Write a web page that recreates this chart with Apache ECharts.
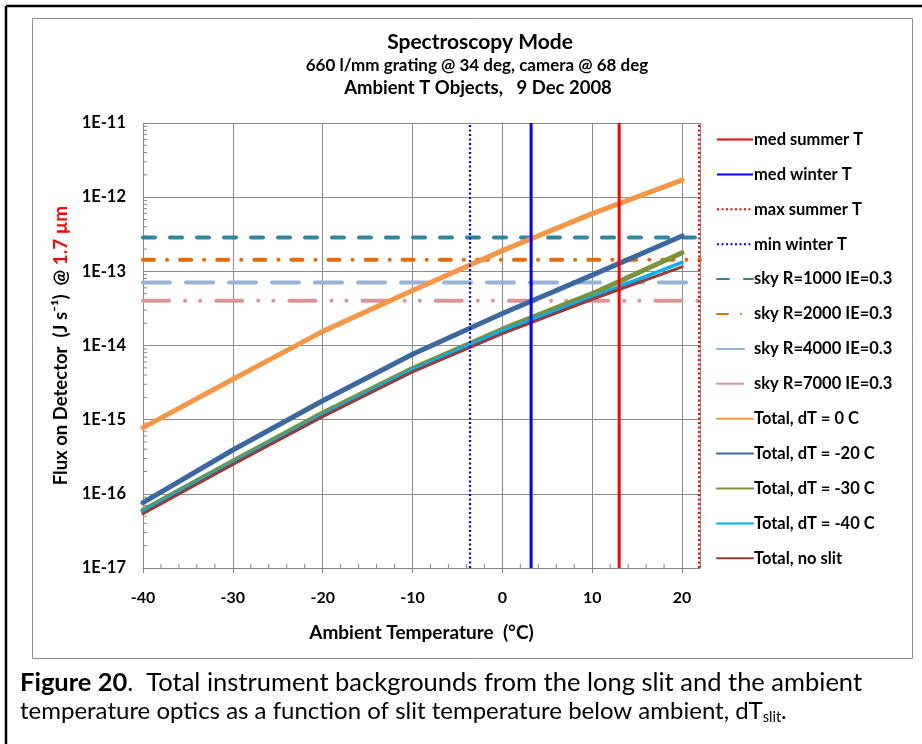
<!DOCTYPE html>
<html><head><meta charset="utf-8">
<script src="https://cdn.jsdelivr.net/npm/echarts@6/dist/echarts.min.js"></script>
<style>html,body{margin:0;padding:0;background:#fff}#c{width:922px;height:744px}</style>
</head><body><div id="c"></div>
<script>
// ---------- data ----------
const temps = [-40, -30, -20, -10, 0, 10, 20];
const totalDT0   = [7.8e-16, 3.5e-15, 1.55e-14, 5.5e-14, 1.9e-13, 6.0e-13, 1.7e-12];
const totalDT20  = [7.6e-17, 3.9e-16, 1.8e-15, 7.6e-15, 2.7e-14, 8.9e-14, 3.0e-13];
const totalDT30  = [6.0e-17, 2.75e-16, 1.23e-15, 4.9e-15, 1.66e-14, 5.0e-14, 1.78e-13];
const totalDT40  = [5.75e-17, 2.6e-16, 1.15e-15, 4.7e-15, 1.58e-14, 4.5e-14, 1.32e-13];
const totalNoSlit= [5.4e-17, 2.5e-16, 1.1e-15, 4.4e-15, 1.45e-14, 4.2e-14, 1.15e-13];
const skyRange = [-40, 22];
const skyR1000 = 2.85e-13, skyR2000 = 1.43e-13, skyR4000 = 7.05e-14, skyR7000 = 4.0e-14;
const medSummerT = 13.0, medWinterT = 3.2, maxSummerT = 21.9, minWinterT = -3.6;
const X_MIN = -40, X_MAX = 22, Y_MIN = 1e-17, Y_MAX = 1e-11;
const yTickLabels = {'-17':'1E-17','-16':'1E-16','-15':'1E-15','-14':'1E-14','-13':'1E-13','-12':'1E-12','-11':'1E-11'};
const yMinorTicks = [];
for (let e = -17; e < -11; e++) for (let m = 2; m <= 9; m++) yMinorTicks.push(m * Math.pow(10, e));
const xMinorTicks = [-38,-36,-34,-32,-28,-26,-24,-22,-18,-16,-14,-12,-8,-6,-4,-2,2,4,6,8,12,14,16,18,22];

const pair = (xs, ys) => xs.map((x, i) => [x, ys[i]]);
const vline = x => [[x, Y_MIN], [x, Y_MAX]];
const hline = v => skyRange.map(x => [x, v]);

const FONT = 'Lato, "Open Sans", sans-serif';
const chart = echarts.init(document.getElementById('c'), null, {renderer: 'canvas'});

function lineSeries(name, data, color, width, type, z, cap) {
  return {name, type: 'line', data, symbol: 'none', showSymbol: false, smooth: false, z: z || 2,
    lineStyle: {color, width, type: type || 'solid', cap: cap || 'butt'}, itemStyle: {color},
    emphasis: {disabled: true}, animation: false};
}

const option = {
  animation: false,
  textStyle: {fontFamily: FONT},
  title: [
    {text: 'Spectroscopy Mode', left: 475, top: 27, textAlign: 'center',
     textStyle: {fontFamily: FONT, fontSize: 21, fontWeight: 'bold', color: '#000'}},
    {text: '660 l/mm grating @ 34 deg, camera @ 68 deg', left: 472, top: 52, textAlign: 'center',
     textStyle: {fontFamily: FONT, fontSize: 17, fontWeight: 'bold', color: '#000'}},
    {text: 'Ambient T Objects,   9 Dec 2008', left: 473, top: 74, textAlign: 'center',
     textStyle: {fontFamily: FONT, fontSize: 18.5, fontWeight: 'bold', color: '#000'}}
  ],
  grid: {left: 143, top: 123, right: 222, bottom: 176, containLabel: false},
  legend: {
    orient: 'vertical', left: 711, top: 126, itemWidth: 36, itemHeight: 14, itemGap: 17.9,
    itemStyle: {opacity: 0},
    data: ['med summer T','med winter T','max summer T','min winter T','sky R=1000 IE=0.3','sky R=2000 IE=0.3',
           'sky R=4000 IE=0.3','sky R=7000 IE=0.3','Total, dT = 0 C','Total, dT = -20 C','Total, dT = -30 C',
           'Total, dT = -40 C','Total, no slit'],
    textStyle: {fontFamily: FONT, fontSize: 16.5, fontWeight: 'bold', color: '#000', padding: [0,0,0,-4]},
    selectedMode: false
  },
  xAxis: {
    type: 'value', min: X_MIN, max: X_MAX, interval: 10,
    axisLine: {show: true, lineStyle: {color: '#868686', width: 1}},
    axisTick: {show: true, length: 5, lineStyle: {color: '#868686'}},
    axisLabel: {showMaxLabel: false, margin: 22, fontFamily: FONT, fontSize: 16, fontWeight: 'bold', color: '#000'},
    splitLine: {show: true, lineStyle: {color: '#8c8c8c', width: 1}},
    name: 'Ambient Temperature  (°C)', nameLocation: 'middle', nameGap: 55,
    nameTextStyle: {fontFamily: FONT, fontSize: 19, fontWeight: 'bold', color: '#000'}
  },
  yAxis: {
    type: 'log', logBase: 10, min: Y_MIN, max: Y_MAX,
    axisLine: {show: true, lineStyle: {color: '#868686', width: 1}},
    axisTick: {show: true, length: 5, lineStyle: {color: '#868686'}},
    axisLabel: {margin: 17, fontFamily: FONT, fontSize: 16.5, fontWeight: 'bold', color: '#000',
      formatter: v => yTickLabels[String(Math.round(Math.log10(v)))] || ''},
    splitLine: {show: true, lineStyle: {color: '#8c8c8c', width: 1}},
    name: '{a|Flux on Detector  (J s⁻¹)  @ }{r|1.7 µm}', nameLocation: 'middle', nameGap: 72,
    nameTextStyle: {rich: {
      a: {fontFamily: FONT, fontSize: 18.5, fontWeight: 'bold', color: '#000'},
      r: {fontFamily: FONT, fontSize: 19, fontWeight: 'bold', color: '#ff0000'}}}
  },
  series: [
    lineSeries('med summer T', vline(medSummerT), '#ff0000', 3, 'solid', 6),
    lineSeries('med winter T', vline(medWinterT), '#0000ff', 3, 'solid', 6),
    lineSeries('max summer T', vline(maxSummerT), '#ff0000', 2.2, [2, 2.5], 6),
    lineSeries('min winter T', vline(minWinterT), '#0000ff', 2.2, [2, 2.5], 6),
    lineSeries('sky R=1000 IE=0.3', hline(skyR1000), '#31859c', 4, [12, 15], 3, 'round'),
    lineSeries('sky R=2000 IE=0.3', hline(skyR2000), '#e46c0a', 4, [11, 13, 0.1, 13], 3, 'round'),
    lineSeries('sky R=4000 IE=0.3', hline(skyR4000), '#95b3d7', 4, [27, 16], 3, 'round'),
    lineSeries('sky R=7000 IE=0.3', hline(skyR7000), '#d99694', 4, [26, 16, 0.1, 15, 0.1, 16], 3, 'round'),
    lineSeries('Total, dT = 0 C', pair(temps, totalDT0), '#f79646', 5, 'solid', 4, 'round'),
    lineSeries('Total, dT = -20 C', pair(temps, totalDT20), '#3b68a0', 5, 'solid', 4, 'round'),
    lineSeries('Total, dT = -30 C', pair(temps, totalDT30), '#77933c', 5, 'solid', 4, 'round'),
    lineSeries('Total, dT = -40 C', pair(temps, totalDT40), '#00b0f0', 3.5, 'solid', 4, 'round'),
    lineSeries('Total, no slit', pair(temps, totalNoSlit), '#9b3b38', 3, 'solid', 4, 'round'),
    {type: 'custom', silent: true, z: 1, animation: false, clip: false,
     data: yMinorTicks.map(v => [X_MIN, v]),
     renderItem: (p, api) => {
       const c = api.coord([api.value(0), api.value(1)]);
       return {type: 'line', shape: {x1: c[0], y1: c[1], x2: c[0] + 4, y2: c[1]}, style: {stroke: '#868686', lineWidth: 1}};
     }},
    {type: 'custom', silent: true, z: 1, animation: false, clip: false,
     data: xMinorTicks.map(x => [x, Y_MIN]),
     renderItem: (p, api) => {
       const c = api.coord([api.value(0), api.value(1)]);
       return {type: 'line', shape: {x1: c[0], y1: c[1], x2: c[0], y2: c[1] - 4}, style: {stroke: '#868686', lineWidth: 1}};
     }}
  ],
  graphic: [
    {type: 'line', shape: {x1: 6, y1: 6, x2: 922, y2: 6}, style: {stroke: '#000', lineWidth: 2.5}, silent: true},
    {type: 'line', shape: {x1: 6, y1: 6, x2: 6, y2: 744}, style: {stroke: '#000', lineWidth: 2.5}, silent: true},
    {type: 'rect', shape: {x: 32.5, y: 18.5, width: 880, height: 640}, style: {fill: 'none', stroke: '#8e8e8e', lineWidth: 1}, silent: true, z: -1},
    {type: 'text', left: 20, top: 670, silent: true, style: {
      text: '{b|Figure 20}{n|.  Total instrument backgrounds from the long slit and the ambient}',
      rich: {b: {fontFamily: FONT, fontSize: 25.5, fontWeight: 'bold', fill: '#000'},
             n: {fontFamily: FONT, fontSize: 25.5, fill: '#000'}}}},
    {type: 'text', left: 20, top: 699, silent: true, style: {
      text: '{n|temperature optics as a function of slit temperature below ambient, dT}{s|slit}{n|.}',
      rich: {n: {fontFamily: FONT, fontSize: 24, fill: '#000', height: 30, verticalAlign: 'bottom'},
             s: {fontFamily: FONT, fontSize: 14.5, fill: '#000', height: 30, verticalAlign: 'bottom', padding: [0,0,-6,0]}}}}
  ]
};
chart.setOption(option);
</script>
</body></html>
